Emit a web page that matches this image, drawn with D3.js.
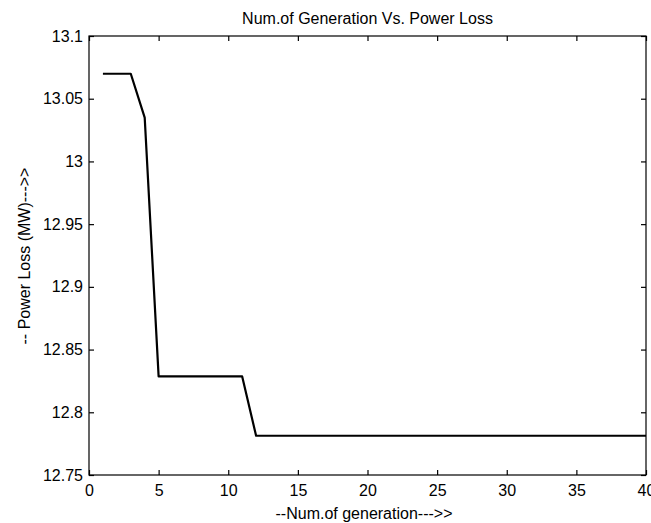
<!DOCTYPE html>
<html>
<head>
<meta charset="utf-8">
<script src="https://cdn.jsdelivr.net/npm/d3@7"></script>
<style>
  html, body { margin: 0; padding: 0; background: #fff; }
  svg { display: block; font-family: "Liberation Sans", Arial, sans-serif; }
</style>
</head>
<body>
<svg id="chart" width="651" height="523"></svg>
<script>
// Best power loss per generation
const generations = [1, 3, 4, 5, 11, 12, 40];
const powerLoss = [13.0699, 13.0699, 13.0349, 12.8286, 12.8286, 12.7813, 12.7813];

const xTicks = [0, 5, 10, 15, 20, 25, 30, 35, 40];
const yTicks = [12.75, 12.8, 12.85, 12.9, 12.95, 13, 13.05, 13.1];

const titleText = "Num.of Generation Vs. Power Loss";
const xLabelText = "--Num.of generation--->>";
const yLabelText = "-- Power Loss (MW)--->>";

const svg = d3.select("#chart");
const margin = { left: 89, top: 36, right: 646, bottom: 475 };
const fontSize = 16;

const x = d3.scaleLinear().domain([0, 40]).range([margin.left, margin.right]);
const y = d3.scaleLinear().domain([12.75, 13.1]).range([margin.bottom, margin.top]);

const fmt = d => String(+d.toFixed(2));
const tickLen = 5;

// Bottom axis with labels, inward ticks
svg.append("g")
  .attr("transform", `translate(0,${margin.bottom})`)
  .call(d3.axisBottom(x).tickValues(xTicks).tickFormat(fmt).tickSizeInner(-tickLen).tickSizeOuter(0).tickPadding(10))
  .call(g => g.select(".domain").remove());

// Top axis, ticks only
svg.append("g")
  .attr("transform", `translate(0,${margin.top})`)
  .call(d3.axisTop(x).tickValues(xTicks).tickFormat("").tickSizeInner(-tickLen).tickSizeOuter(0))
  .call(g => g.select(".domain").remove());

// Left axis with labels
svg.append("g")
  .attr("transform", `translate(${margin.left},0)`)
  .call(d3.axisLeft(y).tickValues(yTicks).tickFormat(fmt).tickSizeInner(-tickLen).tickSizeOuter(0).tickPadding(6))
  .call(g => g.select(".domain").remove());

// Right axis, ticks only
svg.append("g")
  .attr("transform", `translate(${margin.right},0)`)
  .call(d3.axisRight(y).tickValues(yTicks).tickFormat("").tickSizeInner(-tickLen).tickSizeOuter(0))
  .call(g => g.select(".domain").remove());

svg.selectAll(".tick text")
  .attr("font-size", fontSize)
  .attr("fill", "#000")
  .attr("font-family", "'Liberation Sans', Arial, sans-serif");
svg.selectAll(".tick line").attr("stroke", "#000").attr("stroke-width", 1.2);

// Plot box
svg.append("rect")
  .attr("x", margin.left)
  .attr("y", margin.top)
  .attr("width", margin.right - margin.left)
  .attr("height", margin.bottom - margin.top)
  .attr("fill", "none")
  .attr("stroke", "#000")
  .attr("stroke-width", 1.2);

// Series line
const line = d3.line()
  .x((d, i) => x(generations[i]))
  .y(d => y(d));

svg.append("path")
  .datum(powerLoss)
  .attr("d", line)
  .attr("fill", "none")
  .attr("stroke", "#000")
  .attr("stroke-width", 2.2)
  .attr("stroke-linejoin", "round");

// Title and axis labels
svg.append("text")
  .attr("x", (margin.left + margin.right) / 2)
  .attr("y", 23.5)
  .attr("text-anchor", "middle")
  .attr("font-size", fontSize)
  .text(titleText);

svg.append("text")
  .attr("x", 364)
  .attr("y", 519)
  .attr("text-anchor", "middle")
  .attr("font-size", fontSize)
  .text(xLabelText);

svg.append("text")
  .attr("transform", `translate(30,256) rotate(-90)`)
  .attr("text-anchor", "middle")
  .attr("font-size", fontSize)
  .text(yLabelText);
</script>
</body>
</html>
